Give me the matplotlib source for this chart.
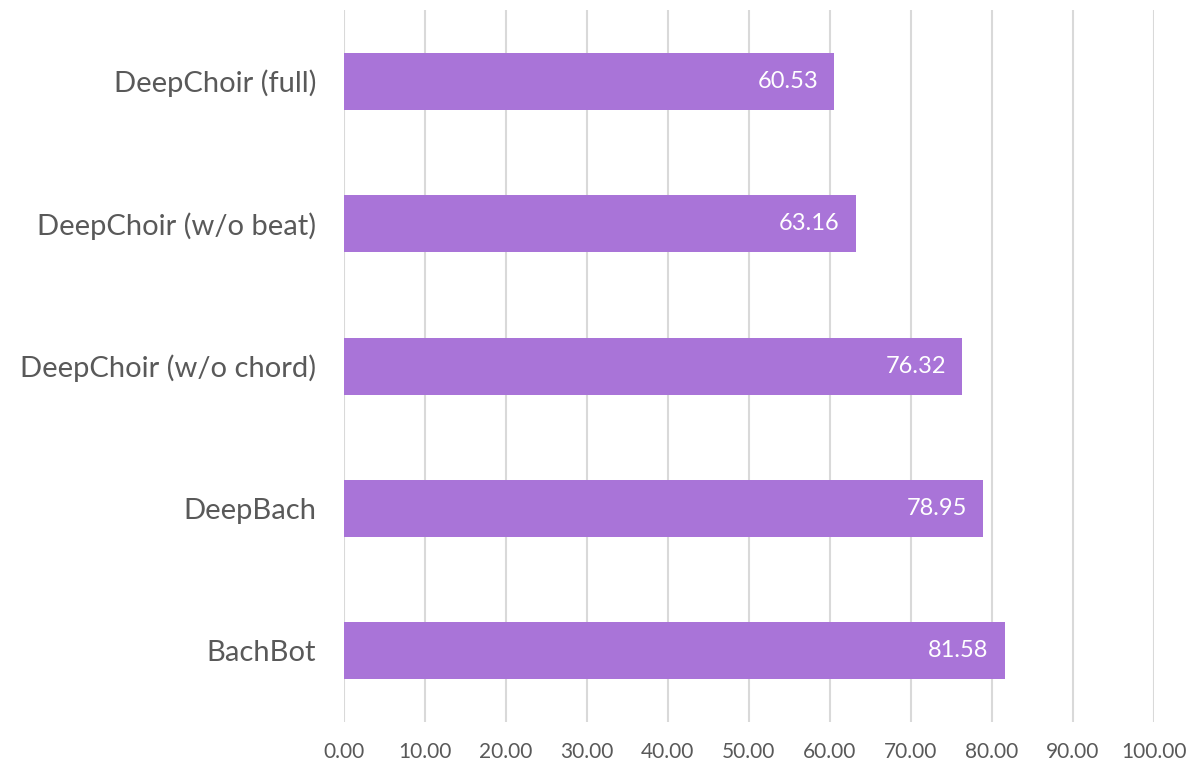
import matplotlib.pyplot as plt
import numpy as np

models = ["DeepChoir (full)", "DeepChoir (w/o beat)", "DeepChoir (w/o chord)",
          "DeepBach", "BachBot"]
scores = [60.53, 63.16, 76.32, 78.95, 81.58]
xticks = np.arange(0, 101, 10)

plt.rcParams['font.family'] = ['Lato', 'DejaVu Sans']

fig = plt.figure(figsize=(11.86, 7.65), dpi=100)
ax = fig.add_axes([0.290, 0.056, 0.683, 0.931])

y = np.arange(len(models))
bars = ax.barh(y, scores, height=0.4, color='#A974D8', zorder=3)

# value labels sit inside the right end of each bar
for b, v in zip(bars, scores):
    ax.text(b.get_width() - 2.0, b.get_y() + b.get_height() / 2, f"{v:.2f}",
            ha='right', va='center', color='white', fontsize=17, zorder=4)

ax.set_ylim(len(models) - 0.5, -0.5)
ax.set_xlim(0, 100)
ax.set_yticks(y)
ax.set_yticklabels(models, fontsize=21, color='#595959')
ax.set_xticks(xticks)
ax.set_xticklabels([f"{t:.2f}" for t in xticks], fontsize=15, color='#595959')
ax.tick_params(axis='both', length=0)
ax.tick_params(axis='x', pad=14)
ax.tick_params(axis='y', pad=20)

ax.grid(axis='x', color='#D9D9D9', linewidth=1.5, zorder=0)
for s in ax.spines.values():
    s.set_visible(False)

fig.savefig('out.png', dpi=100)
